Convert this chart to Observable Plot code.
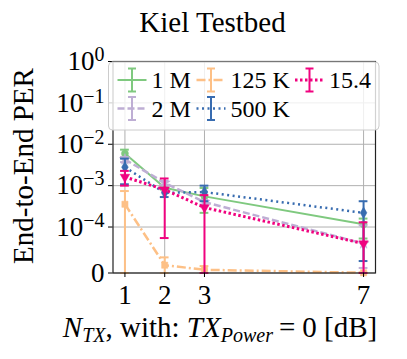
<!DOCTYPE html>
<html><head><meta charset="utf-8">
<script src="https://cdn.jsdelivr.net/npm/d3@7"></script>
<script src="https://cdn.jsdelivr.net/npm/@observablehq/plot@0.6"></script>
<style>body{margin:0;background:#fff} #chart{width:407px;height:359px}</style>
</head><body><div id="chart"></div>
<script>
// ---- data ----
const nTx = [1, 2, 3, 7];
const seriesNames = ["1 M", "2 M", "125 K", "500 K", "15.4"];
const seriesColors = ["#7fc97f", "#beaed4", "#fdc086", "#386cb0", "#f0027f"];
const per_1M  = [6.0e-3, 8.9e-4, 5.5e-4, 1.16e-4];
const lo_1M   = [4.7e-3, 8.0e-4, 2.2e-4, 7.5e-5];
const hi_1M   = [7.4e-3, 1.0e-3, 8.8e-4, 1.6e-4];
const per_2M  = [4.3e-3, 1.17e-3, 4.0e-4, 6.4e-5];
const lo_2M   = [3.7e-3, 1.05e-3, 3.5e-4, 1.1e-5];
const hi_2M   = [4.9e-3, 1.3e-3, 4.5e-4, 1.1e-4];
const per_125K = [3.55e-4, 1.7e-5, 7e-6, 5e-7];
const lo_125K  = [0, 0, 0, 0];
const hi_125K  = [7.4e-4, 3.4e-5, 1.5e-5, 1e-6];
const per_500K = [2.8e-3, 6.7e-4, 7.0e-4, 2.2e-4];
const lo_500K  = [1.08e-3, 5.3e-4, 4.2e-4, 2.6e-5];
const hi_500K  = [4.5e-3, 8.5e-4, 1.0e-3, 4.2e-4];
const per_154 = [1.62e-3, 8.0e-4, 2.95e-4, 6.4e-5];
const lo_154  = [1.0e-3, 7.6e-5, 0, 0];
const hi_154  = [2.27e-3, 1.49e-3, 5.9e-4, 1.3e-4];
const yTickValues = [0, 1e-4, 1e-3, 1e-2, 1e-1, 1];
const yTickLabels = ["0", "10^−4", "10^−3", "10^−2", "10^−1", "10^0"];
const xTickValues = [1, 2, 3, 7];

// ---- styles ----
const styles = [
  {dash: null, width: 2, symbol: "circle", rotate: 0},
  {dash: "7,3", width: 2.5, symbol: "star", rotate: 0},
  {dash: "9,3,2,3", width: 2.5, symbol: "square", rotate: 0},
  {dash: "2,3.5", width: 2.5, symbol: "diamond", rotate: 0},
  {dash: "2.5,2.5", width: 3, symbol: "triangle", rotate: 180}
];
const perArr = [per_1M, per_2M, per_125K, per_500K, per_154];
const loArr = [lo_1M, lo_2M, lo_125K, lo_500K, lo_154];
const hiArr = [hi_1M, hi_2M, hi_125K, hi_500K, hi_154];

// matplotlib-like symlog (linthresh 1e-4, linscale 1)
const T = 1e-4, LS = 1 / (1 - 1 / 10);
const f = v => v <= 0 ? 0 : v < T ? (v / T) * LS : LS + Math.log10(v / T);

const rows = [];
seriesNames.forEach((s, k) => nTx.forEach((x, i) => rows.push({
  s, k, x, v: perArr[k][i], lo: loArr[k][i], hi: hiArr[k][i]
})));

const FONT = "'Liberation Serif', 'Times New Roman', serif";
const yTicksT = yTickValues.map(f);
const labelFor = d => { let bi = 0; yTicksT.forEach((t, i) => { if (Math.abs(t - d) < Math.abs(yTicksT[bi] - d)) bi = i; }); return yTickLabels[bi]; };

const marks = [
  Plot.gridX(xTickValues, {stroke: "#b0b0b0", strokeOpacity: 1, strokeWidth: 1}),
  Plot.gridY(yTicksT, {stroke: "#b0b0b0", strokeOpacity: 1, strokeWidth: 1}),
];
seriesNames.forEach((s, k) => {
  const d = rows.filter(r => r.k === k);
  const st = styles[k], c = seriesColors[k];
  marks.push(
    Plot.line(d, {x: "x", y: r => f(r.v), stroke: c, strokeWidth: st.width, strokeDasharray: st.dash, strokeLinecap: "butt"}),
    Plot.ruleX(d, {x: "x", y1: r => f(r.lo), y2: r => f(r.hi), stroke: c, strokeWidth: 2}),
    Plot.ruleY(d, {y: r => f(r.lo), x1: r => r.x - 0.11, x2: r => r.x + 0.11, stroke: c, strokeWidth: 2}),
    Plot.ruleY(d, {y: r => f(r.hi), x1: r => r.x - 0.11, x2: r => r.x + 0.11, stroke: c, strokeWidth: 2}),
    Plot.dot(d, {x: "x", y: r => f(r.v), symbol: () => st.symbol, fill: c, stroke: c, strokeWidth: 0.5, r: 3.5, rotate: st.rotate})
  );
});
marks.push(
  Plot.frame({stroke: "#222", strokeWidth: 1.2}),
  Plot.axisX({ticks: xTickValues, tickSize: 4.5, tickPadding: 7, fontSize: 27, label: null, tickFormat: d => String(d)}),
  Plot.axisY({ticks: yTicksT, tickSize: 4.5, tickPadding: 4, fontSize: 27, label: null, tickFormat: labelFor})
);

const plot = Plot.plot({
  width: 407, height: 359,
  marginLeft: 112.5, marginRight: 32, marginTop: 61, marginBottom: 86.5,
  x: {domain: [0.7, 7.3]},
  y: {domain: [0, f(1)]},
  style: {fontFamily: FONT, background: "white", color: "black"},
  marks
});
document.getElementById("chart").appendChild(plot);

const svg = d3.select(plot);
// superscripts on y tick labels
svg.selectAll('g[aria-label="y-axis tick label"] text').each(function () {
  const t = d3.select(this), s = t.text();
  if (s.includes("^")) {
    const [b, e] = s.split("^");
    t.text(b);
    t.append("tspan").attr("dy", "-0.45em").attr("font-size", "20px").text(e);
  }
});

// title
svg.append("text").attr("x", 212.5).attr("y", 31.5).attr("text-anchor", "middle")
  .attr("font-family", FONT).attr("font-size", 29).attr("fill", "black").text("Kiel Testbed");
// y label
svg.append("text").attr("transform", "translate(33,166) rotate(-90)").attr("text-anchor", "middle")
  .attr("font-family", FONT).attr("font-size", 29).attr("fill", "black").text("End-to-End PER");
// x label
const xl = svg.append("text").attr("x", 220).attr("y", 336.5).attr("text-anchor", "middle")
  .attr("font-family", FONT).attr("font-size", 29).attr("fill", "black");
xl.append("tspan").attr("font-style", "italic").text("N");
xl.append("tspan").attr("font-style", "italic").attr("font-size", 20).attr("dy", 5).text("TX");
xl.append("tspan").attr("dy", -5).text(", with: ");
xl.append("tspan").attr("font-style", "italic").text("TX");
xl.append("tspan").attr("font-style", "italic").attr("font-size", 20).attr("dy", 5).text("Power");
xl.append("tspan").attr("dy", -5).attr("dx", 6).text("=");
xl.append("tspan").attr("dx", 7).text("0 [dB]");

// legend
const lg = svg.append("g").attr("font-family", FONT).attr("font-size", 24).attr("text-anchor", "start");
lg.append("rect").attr("x", 108.5).attr("y", 62).attr("width", 270.5).attr("height", 68).attr("rx", 4)
  .attr("fill", "white").attr("fill-opacity", 0.8).attr("stroke", "#cccccc");
const legPos = [[117.5, 80], [117.5, 108.5], [196.5, 80], [196.5, 108.5], [295, 80]];
seriesNames.forEach((s, k) => {
  const [hx, hy] = legPos[k], c = seriesColors[k], st = styles[k];
  const cx = hx + 14.5;
  lg.append("line").attr("x1", hx).attr("x2", hx + 29).attr("y1", hy).attr("y2", hy)
    .attr("stroke", c).attr("stroke-width", st.width).attr("stroke-dasharray", st.dash);
  lg.append("line").attr("x1", cx).attr("x2", cx).attr("y1", hy - 11.5).attr("y2", hy + 11.5).attr("stroke", c).attr("stroke-width", 2);
  [hy - 11.5, hy + 11.5].forEach(yy => lg.append("line").attr("x1", cx - 4).attr("x2", cx + 4).attr("y1", yy).attr("y2", yy).attr("stroke", c).attr("stroke-width", 2));
  lg.append("text").attr("x", hx + 34).attr("y", hy).attr("dy", "0.35em").attr("fill", "black").text(s);
});
</script></body></html>
